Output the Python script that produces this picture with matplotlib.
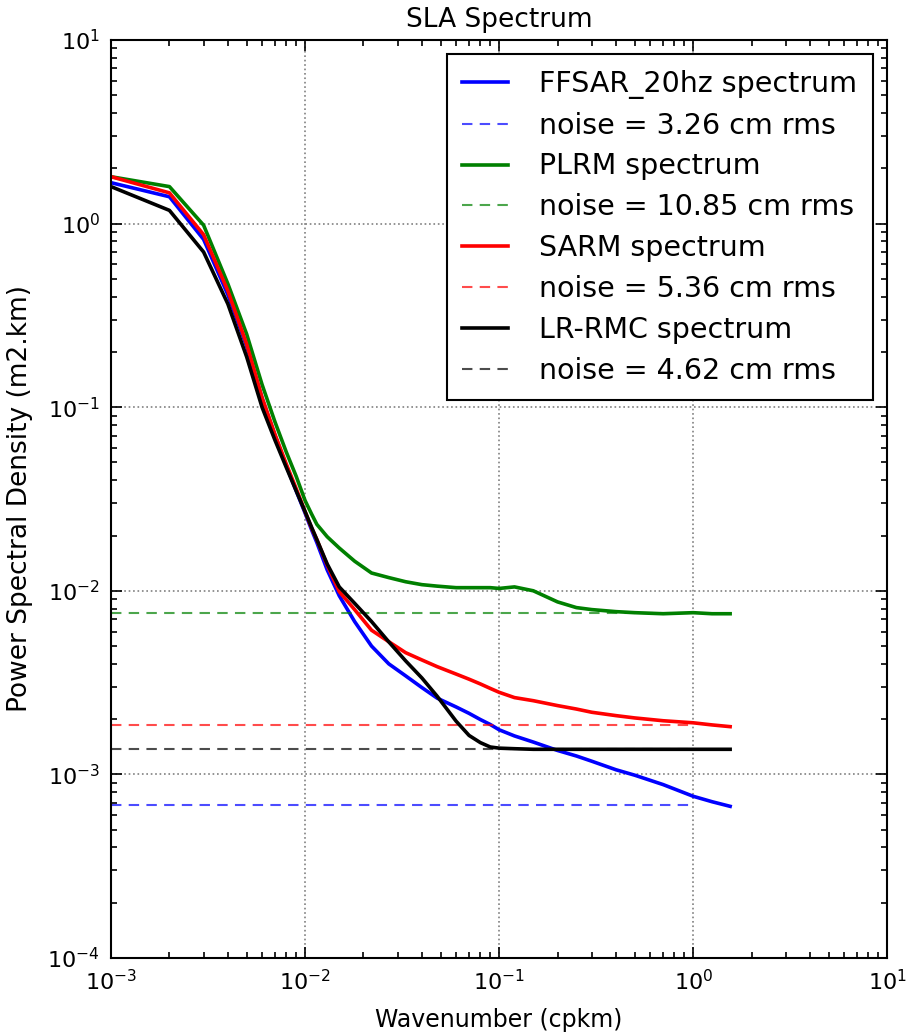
import matplotlib
matplotlib.use("Agg")
import matplotlib.pyplot as plt
from matplotlib.ticker import LogLocator, NullFormatter

# ---- data ----
wavenumber = [0.001, 0.002, 0.003, 0.004, 0.005, 0.006, 0.007, 0.008, 0.009, 0.010,
              0.0108, 0.0115, 0.013, 0.015, 0.018, 0.022, 0.027, 0.033, 0.040, 0.048,
              0.060, 0.070, 0.080, 0.090, 0.100, 0.120, 0.150, 0.200, 0.250, 0.300,
              0.400, 0.500, 0.700, 1.000, 1.250, 1.550]

ffsar_psd = [1.67, 1.40, 0.82, 0.41, 0.215, 0.112, 0.070, 0.048, 0.035, 0.0265,
             0.0215, 0.0183, 0.0130, 0.0094, 0.0068, 0.0050, 0.0040, 0.00344, 0.00297, 0.0026,
             0.00233, 0.00215, 0.00199, 0.00187, 0.00175, 0.00162, 0.00150, 0.00135, 0.00126, 0.00118,
             0.00106, 0.00099, 0.00088, 0.00076, 0.00071, 0.00067]

plrm_psd = [1.80, 1.59, 0.98, 0.47, 0.25, 0.133, 0.083, 0.057, 0.042, 0.031,
            0.0262, 0.0230, 0.0197, 0.0171, 0.0145, 0.0125, 0.0118, 0.0112, 0.0108, 0.0106,
            0.0104, 0.0104, 0.0104, 0.0104, 0.0103, 0.0105, 0.0100, 0.0087, 0.0081, 0.0079,
            0.0077, 0.0076, 0.0075, 0.0076, 0.0075, 0.0075]

sarm_psd = [1.80, 1.47, 0.87, 0.43, 0.22, 0.113, 0.071, 0.049, 0.036, 0.027,
            0.0220, 0.019, 0.0138, 0.0099, 0.0079, 0.0061, 0.00528, 0.0046, 0.0042, 0.00386,
            0.00352, 0.0033, 0.00311, 0.00294, 0.0028, 0.00262, 0.00252, 0.00237, 0.00227, 0.00218,
            0.00209, 0.00203, 0.00196, 0.00191, 0.00186, 0.00182]

lrrmc_psd = [1.59, 1.18, 0.70, 0.365, 0.188, 0.100, 0.066, 0.047, 0.035, 0.027,
             0.0222, 0.019, 0.0140, 0.0105, 0.00855, 0.0068, 0.00527, 0.00415, 0.00335, 0.00266,
             0.00195, 0.00163, 0.00149, 0.00141, 0.00139, 0.00138, 0.00137, 0.00137, 0.00137, 0.00137,
             0.00137, 0.00137, 0.00137, 0.00137, 0.00137, 0.00137]

noise_span = [0.001, 1.0]
noise_levels = {"ffsar": 6.85e-4, "plrm": 7.6e-3, "sarm": 1.85e-3, "lrrmc": 1.38e-3}
noise_rms_cm = {"ffsar": 3.26, "plrm": 10.85, "sarm": 5.36, "lrrmc": 4.62}

series = [
    ("ffsar", "FFSAR_20hz spectrum", ffsar_psd, (0, 0, 1)),
    ("plrm", "PLRM spectrum", plrm_psd, (0, 0.5, 0)),
    ("sarm", "SARM spectrum", sarm_psd, (1, 0, 0)),
    ("lrrmc", "LR-RMC spectrum", lrrmc_psd, (0, 0, 0)),
]

plt.rcParams['font.family'] = ['DejaVu Sans']
plt.rcParams['mathtext.default'] = 'regular'

fig = plt.figure(figsize=(9.1, 10.33), dpi=100, facecolor='white')
ax = fig.add_axes([0.122, 0.0726, 0.853, 0.8887])

for key, label, psd, color in series:
    ax.plot(wavenumber, psd, color=color, lw=2.6, label=label, solid_joinstyle='round')
    lvl = noise_levels[key]
    ax.plot(noise_span, [lvl, lvl], color=color, lw=1.5, alpha=0.7,
            dashes=(5, 3.5), label="noise = %.2f cm rms" % noise_rms_cm[key])

ax.set_xscale('log')
ax.set_yscale('log')
ax.set_xlim(1e-3, 1e1)
ax.set_ylim(1e-4, 1e1)

ax.xaxis.set_major_locator(LogLocator(base=10, numticks=10))
ax.yaxis.set_major_locator(LogLocator(base=10, numticks=10))
ax.xaxis.set_minor_locator(LogLocator(base=10, subs=range(2, 10), numticks=20))
ax.yaxis.set_minor_locator(LogLocator(base=10, subs=range(2, 10), numticks=20))
ax.xaxis.set_minor_formatter(NullFormatter())
ax.yaxis.set_minor_formatter(NullFormatter())

ax.tick_params(which='both', direction='in', top=True, right=True, labelsize=16, width=1.2)
ax.tick_params(which='major', length=8, pad=8)
ax.tick_params(which='minor', length=4)
ax.grid(True, which='major', color='0.5', linestyle=':', linewidth=1.2)
for sp in ax.spines.values():
    sp.set_linewidth(1.5)

ax.set_title("SLA Spectrum", fontsize=19, pad=9)
ax.set_xlabel("Wavenumber (cpkm)", fontsize=17, labelpad=10)
ax.set_ylabel("Power Spectral Density (m2.km)", fontsize=19, labelpad=10)

leg = ax.legend(loc='upper right', fontsize=20.5, fancybox=False, framealpha=1,
                edgecolor='black', labelspacing=0.45, handlelength=1.6,
                handletextpad=1.1, borderpad=0.55, borderaxespad=0.5)
leg.get_frame().set_linewidth(1.5)

fig.savefig("out.png", dpi=100, facecolor='white')
